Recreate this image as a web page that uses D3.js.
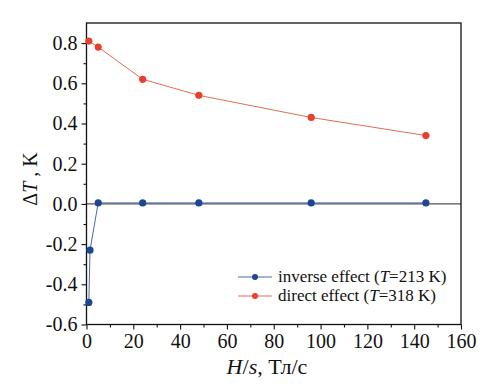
<!DOCTYPE html>
<html><head><meta charset="utf-8">
<script src="https://cdn.jsdelivr.net/npm/d3@7"></script>
<style>body{margin:0;background:#fff}svg{display:block}svg text{font-family:'Liberation Serif','Times New Roman','DejaVu Serif',serif !important;fill:#111}</style>
</head><body><svg id="c" width="490" height="388"></svg>
<script>
const inverseX = [1, 1.5, 5, 24, 48, 96, 145];
const inverseY = [-0.49, -0.23, 0.005, 0.005, 0.005, 0.005, 0.005];
const directX = [1, 5, 24, 48, 96, 145];
const directY = [0.81, 0.78, 0.62, 0.54, 0.43, 0.34];
const xTicks = [0, 20, 40, 60, 80, 100, 120, 140, 160];
const yTicks = [-0.6, -0.4, -0.2, 0.0, 0.2, 0.4, 0.6, 0.8];
const legendLabels = [["inverse effect (", "T", "=213 K)"], ["direct effect (", "T", "=318 K)"]];

const FF = "'Liberation Serif','Times New Roman',serif";
const svg = d3.select("#c").attr("font-family", FF);
const L = 86.5, R = 461, T = 23, B = 324.5;
const x = d3.scaleLinear().domain([0, 160]).range([L, R]);
const y = d3.scaleLinear().domain([-0.6, 0.9]).range([B, T]);
const blue = "#1d4693", blueLine = "#4a6aae", red = "#e8402a", redLine = "#e46a5a";

svg.append("line").attr("x1", L).attr("x2", R).attr("y1", y(0)).attr("y2", y(0)).attr("stroke", "#555").attr("stroke-width", 1.2);
svg.append("rect").attr("x", L).attr("y", T).attr("width", R - L).attr("height", B - T).attr("fill", "none").attr("stroke", "#111").attr("stroke-width", 1.3);

const xa = svg.append("g").attr("transform", `translate(0,${B})`)
  .call(d3.axisBottom(x).tickValues(xTicks).tickSize(5).tickPadding(4).tickFormat(d3.format("d")));
const xm = svg.append("g").attr("transform", `translate(0,${B})`)
  .call(d3.axisBottom(x).tickValues(d3.range(10, 160, 20)).tickSize(3).tickFormat(""));
const ya = svg.append("g").attr("transform", `translate(${L},0)`)
  .call(d3.axisLeft(y).tickValues(yTicks).tickSize(5).tickPadding(4).tickFormat(d3.format(".1f")));
const ym = svg.append("g").attr("transform", `translate(${L},0)`)
  .call(d3.axisLeft(y).tickValues(d3.range(-0.5, 0.9, 0.2)).tickSize(3).tickFormat(""));
[xa, xm, ya, ym].forEach(g => { g.attr("font-family", FF).attr("font-size", 20); g.select(".domain").remove(); g.selectAll("line").attr("stroke", "#111").attr("stroke-width", 1.1); });
[xa, ya].forEach(g => g.selectAll("text").attr("font-family", FF).attr("font-size", 20).attr("fill", "#111"));
ya.selectAll("text").text(d => d3.format(".1f")(d).replace("−", "-"));

function series(xs, ys, lc, mc) {
  const pts = xs.map((v, i) => [v, ys[i]]);
  svg.append("path").datum(pts).attr("fill", "none").attr("stroke", lc).attr("stroke-width", 1)
    .attr("d", d3.line().x(d => x(d[0])).y(d => y(d[1])));
  svg.selectAll(null).data(pts).enter().append("circle")
    .attr("cx", d => x(d[0])).attr("cy", d => y(d[1])).attr("r", 3.6).attr("fill", mc);
}
series(directX, directY, redLine, red);
series(inverseX, inverseY, blueLine, blue);

const lg = [[blue, blueLine], [red, redLine]];
legendLabels.forEach((lab, i) => {
  const yy = 277 + i * 19;
  svg.append("line").attr("x1", 238).attr("x2", 272).attr("y1", yy).attr("y2", yy).attr("stroke", lg[i][1]).attr("stroke-width", 1);
  svg.append("circle").attr("cx", 255).attr("cy", yy).attr("r", 3).attr("fill", lg[i][0]);
  const t = svg.append("text").attr("x", 278).attr("y", yy + 5).attr("font-size", 17).attr("font-family", FF);
  t.append("tspan").text(lab[0]);
  t.append("tspan").attr("font-style", "italic").text(lab[1]);
  t.append("tspan").text(lab[2]);
});

const xt = svg.append("text").attr("x", 267).attr("y", 374).attr("text-anchor", "middle").attr("font-size", 22).attr("font-family", FF);
xt.append("tspan").attr("font-style", "italic").text("H");
xt.append("tspan").text("/");
xt.append("tspan").attr("font-style", "italic").text("s");
xt.append("tspan").text(", Тл/с");

const yt = svg.append("text").attr("transform", `translate(37,179) rotate(-90)`).attr("text-anchor", "middle").attr("font-size", 20).attr("font-family", FF);
yt.append("tspan").text("Δ");
yt.append("tspan").attr("font-style", "italic").text("T");
yt.append("tspan").text(" , K");
</script></body></html>
